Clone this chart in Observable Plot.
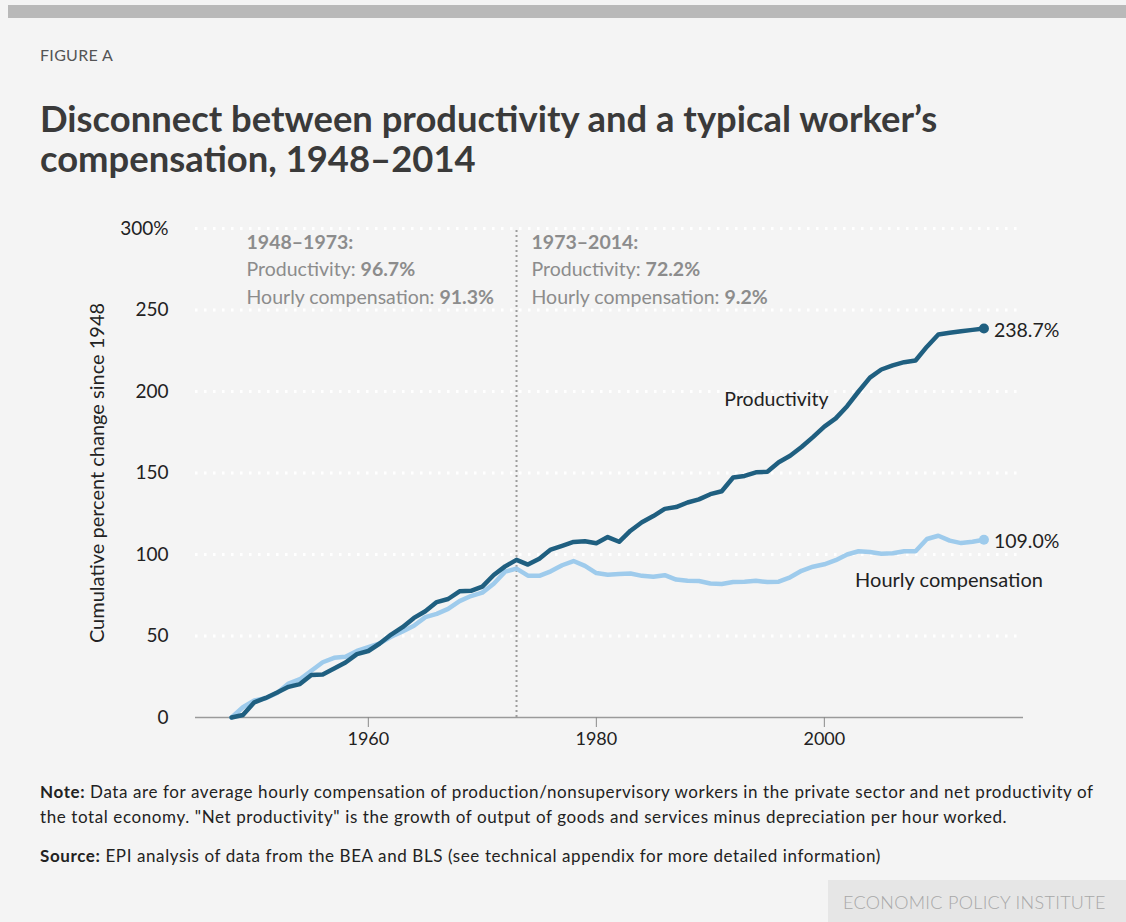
<!DOCTYPE html>
<html>
<head>
<meta charset="utf-8">
<script src="https://cdn.jsdelivr.net/npm/d3@7"></script>
<script src="https://cdn.jsdelivr.net/npm/@observablehq/plot@0.6"></script>
<style>
  html, body { margin: 0; padding: 0; background: #f4f4f4; }
  #page { position: relative; width: 1126px; height: 922px; background: #f4f4f4; overflow: hidden; font-family: Lato, "Noto Sans", sans-serif; }
  #topband { position: absolute; left: 8px; top: 5px; width: 1118px; height: 13px; background: #b9b9b9; }
  #kicker { position: absolute; left: 40px; top: 45px; font-size: 16px; line-height: 20px; color: #555; letter-spacing: 0.3px; }
  #title { position: absolute; left: 40px; top: 98px; font-size: 36.4px; line-height: 40px; font-weight: bold; color: #3a3a3a; }
  #chart { position: absolute; left: 0; top: 200px; }
  .note { position: absolute; left: 40px; font-size: 17px; color: #222; letter-spacing: 0.6px; white-space: nowrap; }
  #note { top: 779px; line-height: 25px; }
  #source { top: 843px; line-height: 25px; }
  #brand { position: absolute; left: 828px; top: 880px; width: 298px; height: 42px; background: #e6e6e6; }
  #brand span { position: absolute; left: 15px; top: 11px; font-size: 18px; line-height: 22px; color: #a8a8a8; letter-spacing: 0.3px; font-weight: 300; }
</style>
</head>
<body>
<div id="page">
  <div id="topband"></div>
  <div id="kicker">FIGURE A</div>
  <div id="title">Disconnect between productivity and a typical worker’s<br>compensation, 1948–2014</div>
  <div id="chart"></div>
  <div id="note" class="note"><b>Note:</b> Data are for average hourly compensation of production/nonsupervisory workers in the private sector and net productivity of<br>the total economy. "Net productivity" is the growth of output of goods and services minus depreciation per hour worked.</div>
  <div id="source" class="note"><b>Source:</b> EPI analysis of data from the BEA and BLS (see technical appendix for more detailed information)</div>
  <div id="brand"><span>ECONOMIC POLICY INSTITUTE</span></div>
</div>
<script>
// Years covered by both series
const years = [
  1948, 1949, 1950, 1951, 1952, 1953, 1954, 1955, 1956, 1957,
  1958, 1959, 1960, 1961, 1962, 1963, 1964, 1965, 1966, 1967,
  1968, 1969, 1970, 1971, 1972, 1973, 1974, 1975, 1976, 1977,
  1978, 1979, 1980, 1981, 1982, 1983, 1984, 1985, 1986, 1987,
  1988, 1989, 1990, 1991, 1992, 1993, 1994, 1995, 1996, 1997,
  1998, 1999, 2000, 2001, 2002, 2003, 2004, 2005, 2006, 2007,
  2008, 2009, 2010, 2011, 2012, 2013, 2014
];

// Net productivity, cumulative % change since 1948
const productivity = [
  0, 1.5, 9.3, 12.0, 15.3, 18.8, 20.5, 26.1, 26.4, 30.0,
  33.7, 38.9, 40.8, 45.4, 50.9, 55.4, 61.1, 65.2, 70.8, 72.7,
  77.4, 77.7, 80.3, 87.4, 92.7, 96.7, 93.8, 97.4, 103.0, 105.3,
  107.7, 108.1, 106.9, 110.7, 107.8, 114.6, 119.8, 123.6, 128.0, 129.1,
  131.9, 133.8, 137.0, 138.8, 147.2, 148.2, 150.4, 150.8, 156.6, 160.6,
  166.0, 172.0, 178.5, 183.5, 191.0, 200.0, 208.5, 213.5, 216.0, 218.0,
  219.0, 227.5, 235.0, 236.0, 237.0, 237.8, 238.7
];

// Hourly compensation of production/nonsupervisory workers, cumulative % change since 1948
const compensation = [
  0, 6.3, 10.5, 11.8, 15.0, 20.8, 23.5, 28.7, 33.9, 36.6,
  37.2, 40.8, 43.2, 45.5, 49.5, 52.8, 56.3, 61.6, 63.6, 66.6,
  71.4, 74.5, 76.6, 82.0, 89.5, 91.3, 87.0, 86.9, 89.7, 93.4,
  96.0, 93.0, 88.6, 87.6, 88.0, 88.3, 86.9, 86.3, 87.3, 84.6,
  83.9, 83.7, 82.2, 81.9, 83.1, 83.3, 83.9, 83.1, 83.3, 86.0,
  90.0, 92.5, 94.0, 96.5, 100.0, 102.0, 101.5, 100.5, 100.8, 102.0,
  102.0, 109.5, 111.5, 108.5, 107.0, 107.8, 109.0
];

// Period summaries shown at the top of the chart
const periodStarts = [1948, 1973];
const periodTitles = ["1948–1973:", "1973–2014:"];
const periodProductivity = ["96.7%", "72.2%"];
const periodCompensation = ["91.3%", "9.2%"];

const yTicks = [0, 50, 100, 150, 200, 250, 300];
const xTicks = [1960, 1980, 2000];

const darkBlue = "#1f5f80";
const lightBlue = "#9ecbec";

const prodData = years.map((year, i) => ({year, value: productivity[i]}));
const compData = years.map((year, i) => ({year, value: compensation[i]}));
const periods = periodStarts.map((start, i) => ({
  start,
  text: `${periodTitles[i]}\nProductivity: ${periodProductivity[i]}\nHourly compensation: ${periodCompensation[i]}`
}));
const last = years.length - 1;

const chart = Plot.plot({
  width: 1126,
  height: 560,
  marginLeft: 195,
  marginRight: 103,
  marginTop: 28,
  marginBottom: 43,
  style: {background: "transparent", fontFamily: "Lato, 'Noto Sans', sans-serif", fontSize: "16px", color: "#222", overflow: "visible"},
  x: {domain: [1944.84, 2017.47]},
  y: {domain: [0, 300]},
  marks: [
    Plot.ruleY(yTicks.filter(d => d > 0), {stroke: "#fff", strokeWidth: 3, strokeDasharray: "2.5,6.5"}),
    Plot.ruleX([1973], {y1: 0, y2: 300, stroke: "#9d9d9d", strokeWidth: 2, strokeDasharray: "2,3"}),
    Plot.ruleY([0], {stroke: "#9a9a9a", strokeWidth: 1.5}),
    Plot.axisX({ticks: xTicks, tickSize: 10, tickPadding: 5, tickFormat: d => String(d), stroke: "#8a8a8a", fill: "#222", fontSize: 18, label: null}),
    Plot.axisY({ticks: yTicks, tickSize: 0, tickPadding: 27, tickFormat: d => d === 300 ? "300%" : String(d), fill: "#222", fontSize: 19, label: null}),
    Plot.text(["Cumulative percent change since 1948"], {frameAnchor: "left", textAnchor: "middle", rotate: -90, dx: -98, fontSize: 20, fill: "#222"}),
    Plot.text(periods, {
      x: "start", text: "text", frameAnchor: "top", dx: 15, dy: 39,
      textAnchor: "start", lineAnchor: "middle", lineHeight: 1.4,
      fontSize: 19.5, fill: "#8c8c8c"
    }),
    Plot.line(compData, {x: "year", y: "value", stroke: lightBlue, strokeWidth: 4.5, strokeLinejoin: "round", strokeLinecap: "round"}),
    Plot.line(prodData, {x: "year", y: "value", stroke: darkBlue, strokeWidth: 4.5, strokeLinejoin: "round", strokeLinecap: "round"}),
    Plot.dot([compData[last]], {x: "year", y: "value", r: 5, fill: lightBlue}),
    Plot.dot([prodData[last]], {x: "year", y: "value", r: 5, fill: darkBlue}),
    Plot.text([prodData[last], compData[last]], {x: "year", y: "value", text: d => d.value.toFixed(1) + "%", dx: 10, dy: 2, textAnchor: "start", fontSize: 19.5, fill: "#222"}),
    Plot.text(["Productivity"], {x: 1995.8, y: 195, fontSize: 19.5, fill: "#222"}),
    Plot.text(["Hourly compensation"], {x: 2002.7, y: 84, textAnchor: "start", fontSize: 20, fill: "#222"})
  ]
});

// Period summaries: bold heading line and bold figures
chart.querySelectorAll("text").forEach(t => {
  const spans = Array.from(t.querySelectorAll("tspan"));
  if (!spans.length || !periodTitles.includes(spans[0].textContent)) return;
  spans.forEach((s, i) => {
    if (i === 0) { s.setAttribute("font-weight", "bold"); return; }
    const str = s.textContent;
    const k = str.lastIndexOf(" ");
    s.textContent = str.slice(0, k + 1);
    const b = document.createElementNS("http://www.w3.org/2000/svg", "tspan");
    b.setAttribute("font-weight", "bold");
    b.textContent = str.slice(k + 1);
    s.appendChild(b);
  });
});

document.getElementById("chart").appendChild(chart);
</script>
</body>
</html>
